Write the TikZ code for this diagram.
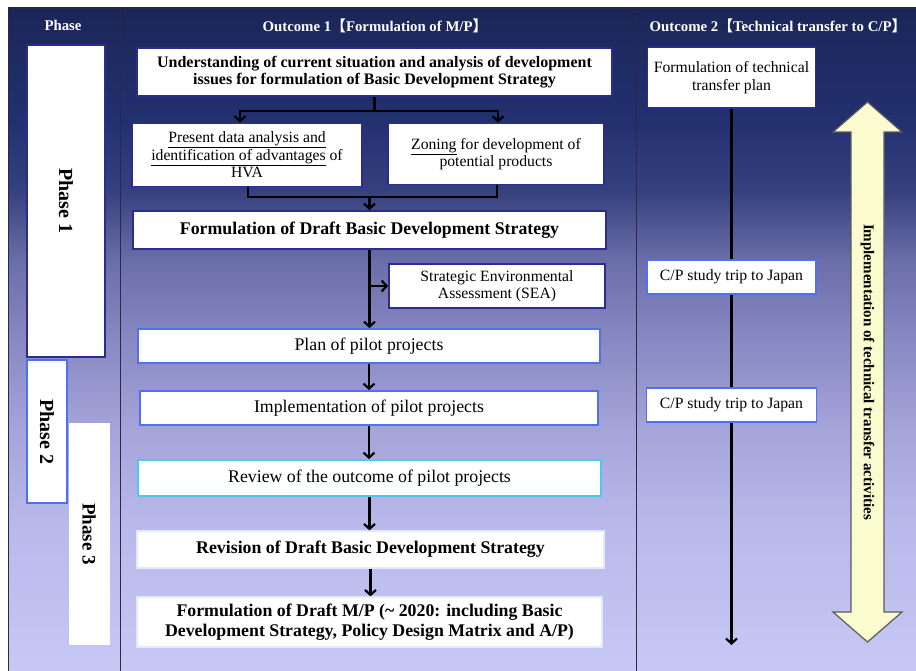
\documentclass[tikz,border=0pt]{standalone}
\usepackage{fontspec}
\setmainfont{Liberation Serif}
\newfontfamily\cjk{Noto Sans CJK JP}
\usetikzlibrary{arrows.meta}
\definecolor{bgA}{HTML}{1B2657}
\definecolor{bgB}{HTML}{233070}
\definecolor{bgC}{HTML}{35407E}
\definecolor{bgD}{HTML}{6A6EA8}
\definecolor{bgE}{HTML}{8585C0}
\definecolor{bgF}{HTML}{A2A2D8}
\definecolor{bgG}{HTML}{B8B8EA}
\definecolor{bgH}{HTML}{C8C8F5}
\definecolor{navyb}{HTML}{2C2C90}
\definecolor{blueb}{HTML}{4F6FF5}
\definecolor{cyanb}{HTML}{4CC8F0}
\definecolor{softb}{HTML}{E4E8FF}
\definecolor{yel}{HTML}{FBFBD0}
\definecolor{yelb}{HTML}{5A5A5A}
\definecolor{divl}{HTML}{2A2A48}
\begin{document}
\begin{tikzpicture}[x=1pt,y=-1pt,
  bx/.style={fill=white, inner sep=0pt, align=center},
  darkbox/.style={bx, draw=navyb, line width=1.8pt},
  bluebox/.style={bx, draw=blueb, line width=1.8pt},
  cyanbox/.style={bx, draw=cyanb, line width=1.8pt},
  softbox/.style={bx, draw=softb, line width=1.2pt},
  hdr/.style={text=white, font=\fontsize{14.8}{17}\selectfont\bfseries, inner sep=0pt},
  sml/.style={font=\fontsize{15.7}{17.5}\selectfont},
  big/.style={font=\fontsize{17.8}{20}\selectfont},
  bigb/.style={font=\fontsize{17.8}{20}\selectfont\bfseries},
  ln/.style={draw=black, line width=2.2pt},
  arr/.style={ln, -{Straight Barb[length=5pt,width=11pt]}},
  yarrow/.style={fill=yel, draw=yelb, line width=1.2pt, line join=miter},
  phtxt/.style={rotate=-90, inner sep=0pt, font=\fontsize{20}{22}\selectfont\bfseries}]
\useasboundingbox (0,0) rectangle (916,671);
\fill[white] (0,0) rectangle (916,671);
% background gradient
\shade[top color=bgA, bottom color=bgB] (8,8) rectangle (916,120.5);
\shade[top color=bgB, bottom color=bgC] (8,120) rectangle (916,190.5);
\shade[top color=bgC, bottom color=bgD] (8,190) rectangle (916,260.5);
\shade[top color=bgD, bottom color=bgE] (8,260) rectangle (916,330.5);
\shade[top color=bgE, bottom color=bgF] (8,330) rectangle (916,420.5);
\shade[top color=bgF, bottom color=bgG] (8,420) rectangle (916,520.5);
\shade[top color=bgG, bottom color=bgH] (8,520) rectangle (916,671);
% dividers
\draw[divl, line width=0.8pt] (8,8) -- (8,671);
\draw[divl, line width=0.8pt] (120,8) -- (120,671);
\draw[divl, line width=0.8pt] (636,8) -- (636,671);
\draw[divl, line width=0.8pt] (8,8) -- (916,8);
% headers
\node[hdr] (h0) at (63,25) {Phase};
\node[hdr] (h1) at (375,26) {Outcome 1{\cjk【}Formulation of M/P{\cjk】}};
\node[hdr] (h2) at (778,26) {Outcome 2{\cjk【}Technical transfer to C/P{\cjk】}};
% phase boxes
\node[darkbox, minimum width=78pt, minimum height=312pt] (p1) at (66,201) {};
\node[bx, draw=blueb, line width=1.4pt, minimum width=40pt, minimum height=143pt] (p2) at (47,431.5) {};
\node[bx, minimum width=41pt, minimum height=222pt] (p3) at (89,534) {};
\node[phtxt] (p1t) at (p1.center) {Phase 1};
\node[phtxt] (p2t) at (p2.center) {Phase 2};
\node[phtxt, font=\fontsize{19}{21}\selectfont\bfseries] (p3t) at (p3.center) {Phase 3};
% outcome 1 boxes
\node[darkbox, minimum width=475pt, minimum height=48pt, font=\fontsize{16}{16.5}\selectfont\bfseries] (u) at (374.5,72)
  {Understanding of current situation and analysis of development\\issues for formulation of Basic Development Strategy};
\node[darkbox, sml, minimum width=230pt, minimum height=63pt] (pr) at (247,155)
  {\underline{Present data analysis and}\\\underline{identification of advantages} of\\HVA};
\node[darkbox, sml, minimum width=216pt, minimum height=61pt] (zo) at (496,154)
  {\underline{Zoning} for development of\\potential products};
\node[darkbox, bigb, minimum width=473pt, minimum height=38pt] (fd) at (369.5,230)
  {Formulation of Draft Basic Development Strategy};
\node[darkbox, sml, minimum width=216pt, minimum height=44pt] (sea) at (497,286)
  {Strategic Environmental\\Assessment (SEA)};
\node[bluebox, big, minimum width=462pt, minimum height=34pt] (plan) at (369,346)
  {Plan of pilot projects};
\node[bluebox, big, minimum width=458pt, minimum height=34pt] (impl) at (369,408)
  {Implementation of pilot projects};
\node[cyanbox, big, minimum width=463pt, minimum height=36pt] (rev) at (369.5,478)
  {Review of the outcome of pilot projects};
\node[softbox, bigb, minimum width=467pt, minimum height=37pt] (revi) at (370.5,549.5)
  {Revision of Draft Basic Development Strategy};
\node[softbox, bigb, minimum width=465pt, minimum height=50pt] (fin) at (369.5,622)
  {Formulation of Draft M/P (\textasciitilde{} 2020: including Basic\\Development Strategy, Policy Design Matrix and A/P)};
% outcome 2 boxes
\node[darkbox, sml, minimum width=168pt, minimum height=61pt] (tp) at (731.5,77.5)
  {Formulation of technical\\transfer plan};
\node[bluebox, sml, minimum width=169pt, minimum height=34pt] (cp1) at (731.5,277)
  {C/P study trip to Japan};
\node[bluebox, sml, minimum width=170pt, minimum height=34pt] (cp2) at (731.5,405)
  {C/P study trip to Japan};
% connectors outcome 1
\draw[ln] (u.south) -- ++(0,14) coordinate (f1);
\draw[arr] (f1) -| ([xshift=-7pt]pr.north);
\draw[arr] (f1) -| ([xshift=2pt]zo.north);
\path (fd.north) ++(0,-13) coordinate (j);
\draw[ln] ([xshift=1pt]pr.south) |- (j);
\draw[ln] ([xshift=1pt]zo.south) |- (j);
\draw[arr] (j) -- (fd.north);
\draw[arr] (fd.south) -- (fd.south |- plan.north);
\draw[arr] (fd.south |- sea.west) -- (sea.west);
\draw[arr] (plan.south) -- (plan.south |- impl.north);
\draw[arr] (impl.south) -- (impl.south |- rev.north);
\draw[arr] (rev.south) -- (rev.south |- revi.north);
\draw[arr] (revi.south) -- (revi.south |- fin.north);
% connectors outcome 2
\draw[ln] (tp.south) -- (cp1.north);
\draw[ln] (cp1.south) -- (cp2.north);
\coordinate (e2) at (731.5,645);
\draw[arr] (cp2.south) -- (e2);
% yellow double arrow
\draw[yarrow] (867.5,102) -- (902,132) -- (884,132) -- (884,612) -- (902,612) -- (867.5,642)
  -- (833,612) -- (851,612) -- (851,132) -- (833,132) -- cycle;
\node[rotate=-90, inner sep=0pt, font=\fontsize{15}{17}\selectfont\bfseries] (yt) at (867.5,372)
  {Implementation of technical transfer activities};
\end{tikzpicture}
\end{document}
